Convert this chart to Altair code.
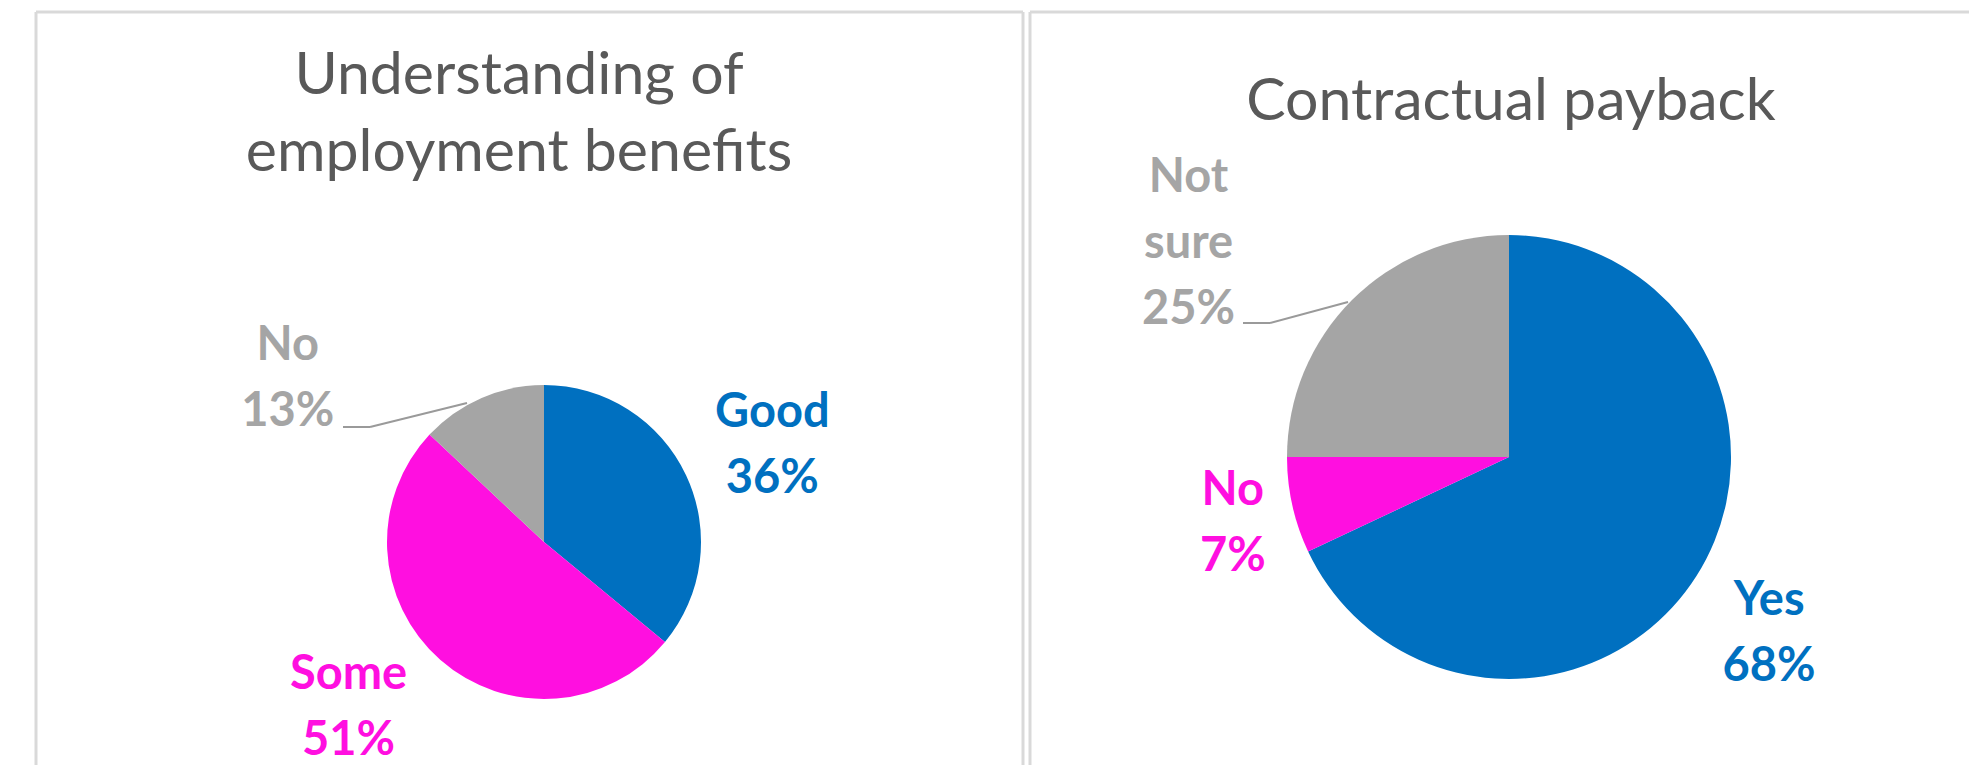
import altair as alt
import pandas as pd

# ---- data ----
left_categories = ["Good", "Some", "No"]
left_values = [36, 51, 13]
right_categories = ["Yes", "No", "Not sure"]
right_values = [68, 7, 25]

left_colors = ["#0070C0", "#FF0FE0", "#A5A5A5"]
right_colors = ["#0070C0", "#FF0FE0", "#A5A5A5"]

left_title = ["Understanding of", "employment benefits"]
right_title = ["Contractual payback"]

W, H = 1961, 757
FONT = "Lato"
TITLE_COLOR = "#595959"
BORDER = "#D9D9D9"
LEADER = "#9A9A9A"


def pie(cats, vals, colors, cx, cy, radius, labels):
    df = pd.DataFrame({"cat": cats, "value": vals, "order": list(range(len(cats)))})
    color = alt.Color("cat:N", scale=alt.Scale(domain=cats, range=colors), legend=None)
    theta = alt.Theta("value:Q", stack=True)
    order = alt.Order("order:Q")
    base = alt.Chart(df).transform_calculate(
        label="replace(datum.cat, ' ', '\\n') + '\\n' + datum.value + '%'"
    )
    arc = base.mark_arc(radius=radius).encode(
        theta=theta, color=color, order=order,
        x=alt.value(cx), y=alt.value(cy),
    )
    layers = [arc]
    for cat, r, dx, dy in labels:
        layers.append(
            base.mark_text(
                radius=r, dx=dx, dy=dy, font=FONT, fontWeight="bold",
                fontSize=47, lineHeight=66, align="center",
                baseline="alphabetic", lineBreak="\n",
            ).encode(
                theta=theta, order=order, color=color,
                x=alt.value(cx), y=alt.value(cy),
                text=alt.condition(f"datum.cat == '{cat}'", "label:N", alt.value("")),
            )
        )
    return alt.layer(*layers)


left_pie = pie(
    left_categories, left_values, left_colors, 536, 534, 157,
    [("Good", 217, 32, -23), ("Some", 217, -52, -16), ("No", 217, -170, 17)],
)
right_pie = pie(
    right_categories, right_values, right_colors, 1501, 449, 222,
    [("Yes", 282, 22, 7), ("No", 282, -1, -14), ("Not sure", 282, -121, -66)],
)

one = pd.DataFrame({"k": [0]})


def rule(x1, y1, x2, y2, color, width):
    return alt.Chart(one).mark_rule(color=color, strokeWidth=width).encode(
        x=alt.value(x1), y=alt.value(y1), x2=alt.value(x2), y2=alt.value(y2)
    )


def title(lines, x, y):
    return alt.Chart(pd.DataFrame({"t": ["\n".join(lines)]})).mark_text(
        font=FONT, fontSize=59, lineHeight=77, color=TITLE_COLOR,
        align="center", baseline="alphabetic", lineBreak="\n",
    ).encode(text="t:N", x=alt.value(x), y=alt.value(y))


decor = [
    # panel borders
    rule(28, 4, 28, H, BORDER, 3),
    rule(28, 4, 1015, 4, BORDER, 3),
    rule(1015, 4, 1015, H, BORDER, 3),
    rule(1022, 4, 1022, H, BORDER, 3),
    rule(1022, 4, W, 4, BORDER, 3),
    # leader lines
    rule(335, 419, 362, 419, LEADER, 2),
    rule(362, 419, 459, 395, LEADER, 2),
    rule(1235, 315, 1262, 315, LEADER, 2),
    rule(1262, 315, 1340, 294, LEADER, 2),
    # titles
    title(left_title, 511, 86),
    title(right_title, 1503, 112),
]

chart = alt.layer(left_pie, right_pie, *decor).resolve_scale(
    theta="independent", color="independent"
).properties(
    width=W, height=H, padding=0, autosize="none", background="white"
).configure_view(strokeWidth=0)

chart.save("out.html", embed_options={"renderer": "svg", "actions": False})
